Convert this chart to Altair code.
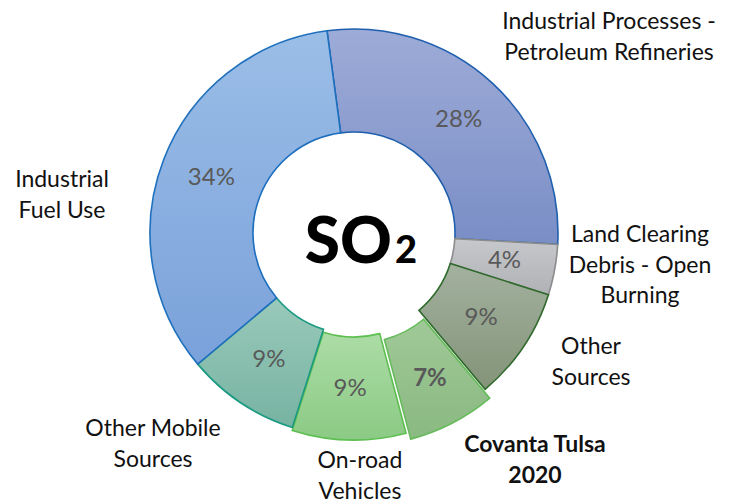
import math
import altair as alt
import pandas as pd

# ---------------- data ----------------
categories = [
    "Industrial Processes - Petroleum Refineries",
    "Land Clearing Debris - Open Burning",
    "Other Sources",
    "Covanta Tulsa 2020",
    "On-road Vehicles",
    "Other Mobile Sources",
    "Industrial Fuel Use",
]
shares = [28, 4, 9, 7, 9, 9, 34]
pct_labels = ["28%", "4%", "9%", "7%", "9%", "9%", "34%"]
label_lines = [
    "Industrial Processes -\nPetroleum Refineries",
    "Land Clearing\nDebris - Open\nBurning",
    "Other\nSources",
    "Covanta Tulsa\n2020",
    "On-road\nVehicles",
    "Other Mobile\nSources",
    "Industrial\nFuel Use",
]
center_title = "SO"
center_sub = "2"

# ---------------- styles / layout ----------------
fill_top = ["#9DABD7", "#C7C8CC", "#A3B19F", "#A0C997", "#ACDCA6", "#99C9BA", "#9BBEE7"]
fill_bottom = ["#7A8EC6", "#B0B1B5", "#839479", "#8AB981", "#8BCA84", "#77B3A2", "#7AA1DA"]
strokes = ["#1F5FAE", "#8C8C8C", "#2F6A2C", "#66BB5B", "#5CBF50", "#1A9A82", "#1E6FBD"]
explode = [0, 0, 0, 10, 3, 0, 0]
pct_radius = [154, 153, 153, 165, 156, 153, 153]
pct_bold = [False, False, False, True, False, False, False]
label_x = [601, 632, 583, 527, 352, 145, 54]
label_y = [21, 234, 346, 444, 460, 428, 179]
label_bold = [False, False, False, True, False, False, False]

W, H = 692, 450
OUTER, INNER = 204, 101
start_deg = -7.6
start_rad = math.radians(start_deg)
theta_scale = alt.Scale(domain=[0, 100], range=[start_rad, start_rad + 2 * math.pi])

df = pd.DataFrame({
    "order": list(range(len(categories))),
    "category": categories,
    "value": shares,
    "pct": pct_labels,
})

base = (
    alt.Chart(df)
    .transform_window(cum="sum(value)", sort=[alt.SortField("order")])
    .transform_calculate(start="datum.cum - datum.value",
                         mid="datum.cum - datum.value / 2")
)

layers = []
cum = 0
for i, cat in enumerate(categories):
    v = shares[i]
    mid = start_rad + 2 * math.pi * (cum + v / 2) / 100
    cum += v
    dx = explode[i] * math.sin(mid)
    dy = -explode[i] * math.cos(mid)
    grad = alt.LinearGradient(
        gradient="linear",
        stops=[alt.GradientStop(color=fill_top[i], offset=0),
               alt.GradientStop(color=fill_bottom[i], offset=1)],
        x1=0, x2=0, y1=0, y2=1,
    )
    sl = base.transform_filter(alt.datum.category == cat)
    arc = sl.mark_arc(
        radius=OUTER, radius2=INNER, color=grad,
        stroke=strokes[i], strokeWidth=1.6,
        xOffset=dx, yOffset=dy,
    ).encode(
        theta=alt.Theta("start:Q", scale=theta_scale, stack=None),
        theta2="cum:Q",
    )
    layers.append(arc)

for i, cat in enumerate(categories):
    sl = base.transform_filter(alt.datum.category == cat)
    txt = sl.mark_text(
        radius=pct_radius[i], font="Lato", fontSize=24,
        fontWeight="bold" if pct_bold[i] else "normal",
        color="#595959", align="center", baseline="middle",
    ).encode(
        theta=alt.Theta("mid:Q", scale=theta_scale, stack=None),
        text="pct:N",
    )
    layers.append(txt)

lab_df = pd.DataFrame({
    "label": label_lines,
    "lx": label_x,
    "ly": label_y,
    "bold": label_bold,
})
for bold in (False, True):
    lab = alt.Chart(lab_df).transform_filter(
        alt.datum.bold == bold
    ).mark_text(
        font="Lato", fontSize=23, fontWeight="bold" if bold else "normal",
        color="#111111", align="center", baseline="alphabetic",
        lineBreak="\n", lineHeight=30.5,
    ).encode(
        x=alt.X("lx:Q", scale=None),
        y=alt.Y("ly:Q", scale=None),
        text="label:N",
    )
    layers.append(lab)

title_df = pd.DataFrame({"t": [center_title], "s": [center_sub]})
so = alt.Chart(title_df).mark_text(
    font="Lato", fontSize=64, fontWeight=900, color="#000000",
    align="right", baseline="alphabetic",
).encode(x=alt.value(384), y=alt.value(255), text="t:N")
sub = alt.Chart(title_df).mark_text(
    font="Lato", fontSize=38, fontWeight=900, color="#000000",
    align="left", baseline="alphabetic",
).encode(x=alt.value(387), y=alt.value(255), text="s:N")
layers += [so, sub]

chart = alt.layer(*layers).properties(
    width=W, height=H,
    autosize=alt.AutoSizeParams(type="none"),
    padding={"left": 0, "top": 0, "right": 27, "bottom": 45},
).configure_view(stroke=None)

chart.save("out.html", embed_options={"renderer": "svg", "actions": False})
